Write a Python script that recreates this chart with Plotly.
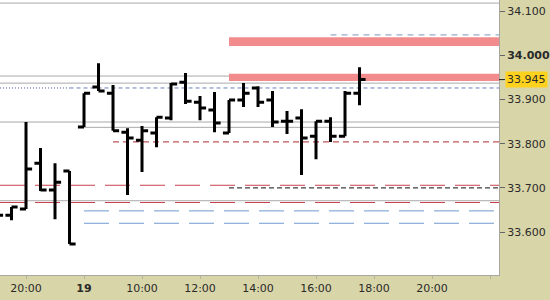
import plotly.graph_objects as go

# ---- data -------------------------------------------------------------
# x = session hours relative to 08:00 on the 19th (the "19" label); overnight gap removed
bar_t = [-3, -2.5, -2, -1.5, -1, -0.5, 0, 0.5, 1, 1.5, 2, 2.5, 3, 3.5, 4, 4.5,
         5, 5.5, 6, 6.5, 7, 7.5, 8, 8.5, 9, 9.5]
opens = [33.645, 33.638, 33.652, 33.756, 33.695, 33.738, 33.838, 33.928, 33.914, 33.826,
         33.808, 33.824, 33.858, 33.939, 33.894, 33.876, 33.824, 33.899, 33.926, 33.899,
         33.851, 33.858, 33.817, 33.851, 33.817, 33.914]
highs = [33.650, 33.657, 33.849, 33.790, 33.756, 33.738, 33.914, 33.982, 33.933, 33.835,
         33.840, 33.860, 33.937, 33.960, 33.908, 33.917, 33.899, 33.937, 33.930, 33.919,
         33.874, 33.878, 33.851, 33.860, 33.919, 33.973]
lows = [33.634, 33.627, 33.652, 33.693, 33.629, 33.573, 33.838, 33.919, 33.829, 33.684,
        33.736, 33.792, 33.853, 33.890, 33.853, 33.826, 33.824, 33.883, 33.883, 33.838,
        33.822, 33.729, 33.765, 33.804, 33.817, 33.887]
closes = [33.638, 33.657, 33.743, 33.695, 33.713, 33.573, 33.914, 33.919, 33.829, 33.813,
          33.829, 33.860, 33.935, 33.896, 33.881, 33.847, 33.899, 33.914, 33.894, 33.849,
          33.851, 33.813, 33.851, 33.817, 33.914, 33.945]

x_tick_vals = [-2, 0, 2, 4, 6, 8, 10, 12, 14]
x_tick_text = ["20:00", "<b>19</b>", "10:00", "12:00", "14:00", "16:00", "18:00", "20:00", ""]
y_tick_vals = [33.6, 33.7, 33.8, 33.9, 34.0, 34.1]
y_tick_text = ["33.600", "33.700", "33.800", "33.900", "<b>34.000</b>", "34.100"]

last_price = 33.945

# reference levels
gray_levels = [34.118, 33.953, 33.937, 33.849, 33.837, 33.671]
gray_starts = [None, None, None, None, 0, None]
zone_lows = [34.021, 33.942]
zone_highs = [34.041, 33.958]
zone_start = 5.0
level_blue_top = 34.046
level_blue_top_start = 8.5
level_navy = 33.926
level_navy_split = -0.5
level_red_short = 33.804
level_red_short_start = 1.0
level_black = 33.700
level_black_start = 5.0
red_long_levels = [33.706, 33.667]
blue_long_levels = [33.648, 33.620]
blue_long_start = 0.0

X_MIN, X_MAX = -2.897, 14.31
Y_MIN, Y_MAX = 33.503, 34.125

# ---- figure -------------------------------------------------------------
fig = go.Figure()
fig.add_trace(go.Ohlc(
    x=bar_t, open=opens, high=highs, low=lows, close=closes,
    increasing=dict(line=dict(color="black", width=3)),
    decreasing=dict(line=dict(color="black", width=3)),
    tickwidth=0.42, hoverinfo="skip", showlegend=False,
))

shapes = []

def hline(y, x0=None, x1=None, color="#a0a0a0", width=1, dash="solid"):
    shapes.append(dict(type="line", xref="x", yref="y",
                       x0=X_MIN if x0 is None else x0,
                       x1=X_MAX if x1 is None else x1,
                       y0=y, y1=y, layer="below",
                       line=dict(color=color, width=width, dash=dash)))

for lv, st in zip(gray_levels, gray_starts):
    hline(lv, st, color="#a9a9a9", width=1)

for lv in red_long_levels:
    hline(lv, color="#c8404c", width=1, dash="25px,10px")
for lv in blue_long_levels:
    hline(lv, blue_long_start, color="#6f9bd0", width=1, dash="25px,10px")
hline(level_black, level_black_start, color="#111111", width=1, dash="5px,3px")
hline(level_red_short, level_red_short_start, color="#b02a30", width=1, dash="6px,4px")
hline(level_navy, None, level_navy_split, color="#4a5aa0", width=1, dash="1px,2px")
hline(level_navy, level_navy_split, color="#6a7db8", width=1, dash="4px,3px")
hline(level_blue_top, level_blue_top_start, color="#7f96b8", width=1, dash="6px,5px")

for lo, hi in zip(zone_lows, zone_highs):
    shapes.append(dict(type="rect", xref="x", yref="y", x0=zone_start, x1=X_MAX,
                       y0=lo, y1=hi, layer="below", line=dict(width=0),
                       fillcolor="#f28c8c"))

# current price marker tick on axis
shapes.append(dict(type="line", xref="paper", yref="y", x0=1.0, x1=1.012,
                   y0=last_price, y1=last_price, line=dict(color="#222", width=1)))

fig.update_layout(
    width=550, height=300,
    margin=dict(l=0, r=51, t=0, b=25),
    paper_bgcolor="#d8d5a8",
    plot_bgcolor="white",
    shapes=shapes,
    showlegend=False,
    font=dict(family="DejaVu Sans", size=11, color="#2a2a2a"),
    xaxis=dict(range=[X_MIN, X_MAX], tickvals=x_tick_vals, ticktext=x_tick_text,
               showgrid=False, zeroline=False, rangeslider=dict(visible=False),
               showline=True, linecolor="#a8a8a0", linewidth=1,
               ticks="outside", ticklen=3, tickcolor="#b8b49a",
               tickfont=dict(size=11, color="#2a2a2a", family="DejaVu Sans"),
               fixedrange=True),
    yaxis=dict(range=[Y_MIN, Y_MAX], side="right", tickvals=y_tick_vals,
               ticktext=y_tick_text, showgrid=False, zeroline=False,
               showline=True, linecolor="#a8a8a0", linewidth=1,
               ticks="outside", ticklen=5, tickcolor="#666",
               tickfont=dict(size=11, color="#2a2a2a", family="DejaVu Sans"),
               fixedrange=True),
    annotations=[dict(xref="paper", yref="y", x=1.012, y=last_price,
                      xanchor="left", yanchor="middle", showarrow=False,
                      text=f"{last_price:.3f}", bgcolor="#ffd21e",
                      font=dict(size=11, color="#2a2a2a", family="DejaVu Sans"),
                      borderpad=1)],
)

fig.write_html("out.html")
